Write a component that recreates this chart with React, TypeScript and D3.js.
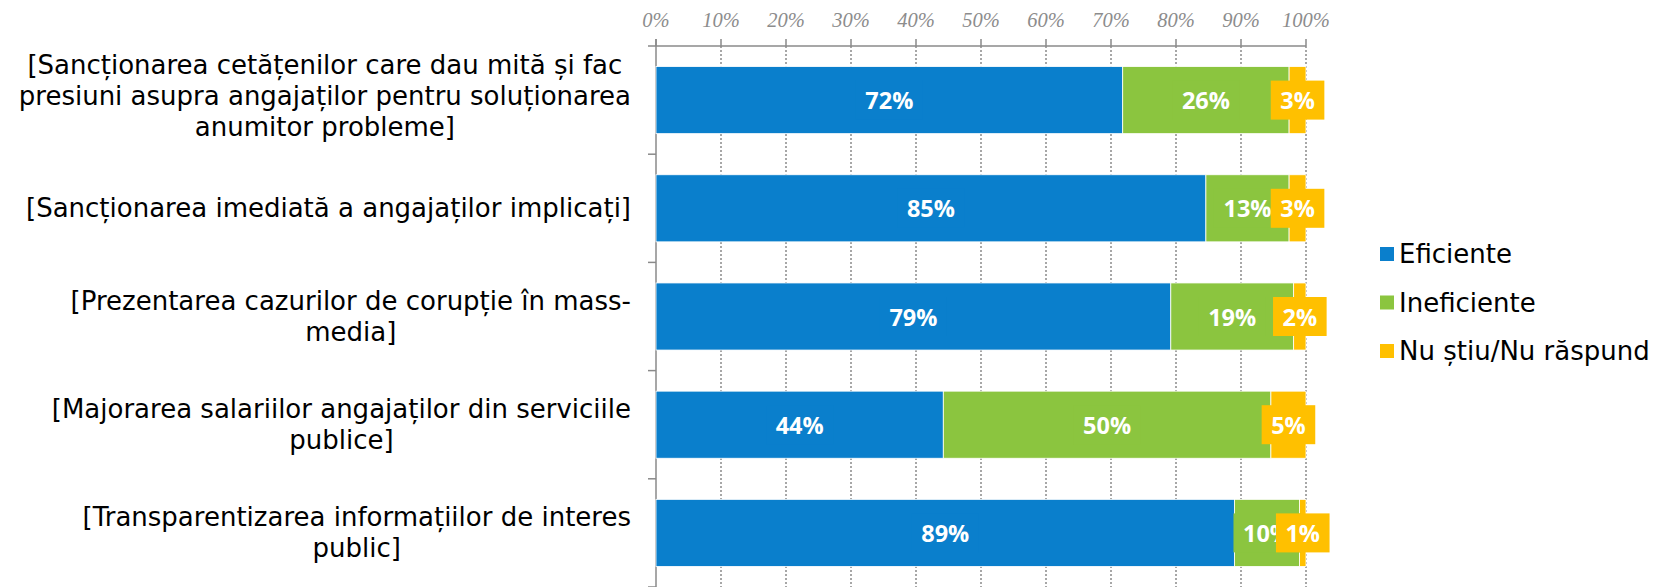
import React, { useEffect, useRef } from "react";
import * as d3 from "d3";

const categories: string[][] = [
  ["[Sancționarea cetățenilor care dau mită și fac", "presiuni asupra angajaților pentru soluționarea", "anumitor probleme]"],
  ["[Sancționarea imediată a angajaților implicați]"],
  ["[Prezentarea cazurilor de corupție în mass-", "media]"],
  ["[Majorarea salariilor angajaților din serviciile", "publice]"],
  ["[Transparentizarea informațiilor de interes", "public]"],
];
const seriesNames = ["Eficiente", "Ineficiente", "Nu știu/Nu răspund"];
const eficiente = [71.8, 84.6, 79.2, 44.2, 89.0];
const ineficiente = [25.6, 12.8, 18.9, 50.4, 10.0];
const nuStiu = [2.6, 2.6, 1.9, 5.4, 1.0];
const tickValues = [0, 10, 20, 30, 40, 50, 60, 70, 80, 90, 100];
const colors = ["#0A7FCC", "#8BC53F", "#FFC000"];

const W = 1654;
const H = 587;

export default function App() {
  const ref = useRef<SVGSVGElement | null>(null);

  useEffect(() => {
    const svg = d3.select(ref.current);
    svg.selectAll("*").remove();

    const left = 656, right = 1306, top = 46, bottom = 587;
    const rows = categories.map((c, i) => ({
      idx: i,
      a: eficiente[i],
      b: ineficiente[i],
      c: nuStiu[i],
    }));
    const keys = ["a", "b", "c"];
    const raw = [eficiente, ineficiente, nuStiu];
    const stack = d3.stack<any>().keys(keys).offset(d3.stackOffsetExpand);
    const series = stack(rows);

    const x = d3.scaleLinear().domain([0, 1]).range([left, right]);
    const xt = d3.scaleLinear().domain([0, 100]).range([left, right]);
    const y = d3
      .scaleBand<number>()
      .domain(rows.map((r) => r.idx))
      .range([top, bottom])
      .paddingInner(0.38)
      .paddingOuter(0.19);
    const step = y.step();

    // gridlines
    svg
      .append("g")
      .selectAll("line")
      .data(tickValues.filter((t) => t > 0))
      .join("line")
      .attr("x1", (d) => xt(d))
      .attr("x2", (d) => xt(d))
      .attr("y1", top)
      .attr("y2", bottom)
      .attr("stroke", "#8a8a8a")
      .attr("stroke-width", 1.5)
      .attr("stroke-dasharray", "2,2");

    // top axis
    const ax = svg.append("g").attr("stroke", "#8a8a8a").attr("stroke-width", 1.5);
    ax.append("line").attr("x1", left - 8).attr("x2", right).attr("y1", top).attr("y2", top);
    ax.selectAll("line.t")
      .data(tickValues)
      .join("line")
      .attr("class", "t")
      .attr("x1", (d) => xt(d))
      .attr("x2", (d) => xt(d))
      .attr("y1", top - 7)
      .attr("y2", top);
    ax.append("line").attr("x1", left).attr("x2", left).attr("y1", top - 7).attr("y2", bottom);
    ax.selectAll("line.c")
      .data(d3.range(1, categories.length + 1))
      .join("line")
      .attr("class", "c")
      .attr("x1", left - 8)
      .attr("x2", left)
      .attr("y1", (i) => top + i * step)
      .attr("y2", (i) => top + i * step);

    svg
      .append("g")
      .selectAll("text")
      .data(tickValues)
      .join("text")
      .attr("x", (d) => xt(d))
      .attr("y", 20)
      .attr("text-anchor", "middle")
      .attr("dominant-baseline", "central")
      .attr("font-family", "'Liberation Serif', serif")
      .attr("font-style", "italic")
      .attr("font-size", 20.5)
      .attr("fill", "#8c8c8c")
      .text((d) => d + "%");

    // bars
    series.forEach((s, si) => {
      svg
        .append("g")
        .selectAll("rect")
        .data(s)
        .join("rect")
        .attr("x", (d) => x(d[0]))
        .attr("width", (d) => x(d[1]) - x(d[0]))
        .attr("y", (d, i) => y(i)!)
        .attr("height", y.bandwidth())
        .attr("fill", colors[si])
        .attr("stroke", "#ffffff")
        .attr("stroke-width", 0.8);
    });

    // data labels
    rows.forEach((r, i) => {
      const g = svg.append("g");
      series.forEach((s, si) => {
        const d = s[i];
        const cx = x((d[0] + d[1]) / 2);
        const cy = y(i)! + y.bandwidth() / 2;
        const box = g.append("rect").attr("fill", colors[si]);
        const t = g
          .append("text")
          .attr("x", cx)
          .attr("y", cy)
          .attr("text-anchor", "middle")
          .attr("dominant-baseline", "central")
          .attr("font-family", "'Open Sans', sans-serif")
          .attr("font-weight", "bold")
          .attr("font-size", 23.5)
          .attr("fill", "#ffffff")
          .text(Math.round(raw[si][i]) + "%");
        const w = (t.node() as SVGTextElement).getComputedTextLength();
        box
          .attr("x", cx - w / 2 - 9.5)
          .attr("width", w + 19)
          .attr("y", cy - 19.5)
          .attr("height", 39);
      });
    });

    // category labels
    const labelRight = 631;
    categories.forEach((lines, i) => {
      const g = svg.append("g");
      const cy = y(i)! + y.bandwidth() / 2 + (lines.length > 2 ? -4 : 0);
      const lh = 31;
      const texts = lines.map((ln, li) =>
        g
          .append("text")
          .attr("y", cy + (li - (lines.length - 1) / 2) * lh)
          .attr("text-anchor", "middle")
          .attr("dominant-baseline", "central")
          .attr("font-family", "'DejaVu Sans', sans-serif")
          .attr("font-size", 26)
          .attr("fill", "#000")
          .text(ln)
      );
      const maxW = d3.max(texts, (t) => (t.node() as SVGTextElement).getComputedTextLength()) || 0;
      texts.forEach((t) => t.attr("x", labelRight - maxW / 2));
    });

    // legend
    const lg = svg.append("g");
    seriesNames.forEach((n, i) => {
      const cy = 254 + i * 48.5;
      lg.append("rect")
        .attr("x", 1380)
        .attr("y", cy - 7)
        .attr("width", 14)
        .attr("height", 14)
        .attr("fill", colors[i]);
      lg.append("text")
        .attr("x", 1399)
        .attr("y", cy)
        .attr("dominant-baseline", "central")
        .attr("font-family", "'DejaVu Sans', sans-serif")
        .attr("font-size", 26)
        .attr("fill", "#000")
        .text(n);
    });
  }, []);

  return (
    <svg
      ref={ref}
      width={W}
      height={H}
      style={{ position: "absolute", left: 0, top: 0, background: "#fff" }}
    />
  );
}
